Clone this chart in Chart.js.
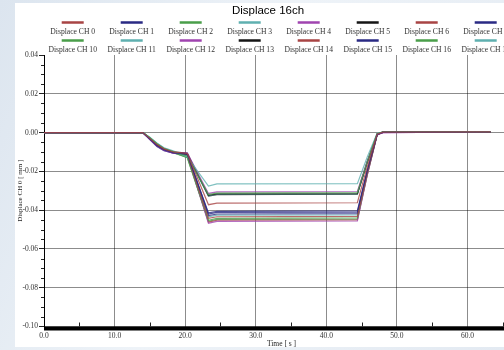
<!DOCTYPE html>
<html>
<head>
<meta charset="utf-8">
<script src="https://cdn.jsdelivr.net/npm/chart.js@4.4.0/dist/chart.umd.min.js"></script>
<style>
  html, body { margin: 0; padding: 0; width: 504px; height: 350px; overflow: hidden; }
  body { position: relative; background: linear-gradient(115deg, #dce5ef 0%, #eef3f8 45%, #e3eaf2 100%); }
  #wrap { position: absolute; left: 15px; top: 0; width: 506px; height: 350px; }
</style>
</head>
<body>
<div id="wrap"><canvas id="chart" width="506" height="350"></canvas></div>
<script>
// Chart text
const chartTitle = 'Displace 16ch';
const xTitle = 'Time [ s ]';
const yTitle = 'Displace CH 0 [ mm ]';

// Channel names (octal numbering, 16 channels) and legend colours
const channels = [
  'Displace CH 0', 'Displace CH 1', 'Displace CH 2', 'Displace CH 3',
  'Displace CH 4', 'Displace CH 5', 'Displace CH 6', 'Displace CH 7',
  'Displace CH 10', 'Displace CH 11', 'Displace CH 12', 'Displace CH 13',
  'Displace CH 14', 'Displace CH 15', 'Displace CH 16', 'Displace CH 17'
];
const channelColors = [
  '#a84444', '#2a2a84', '#4a9e4a', '#5fb0b0', '#a044b0', '#151515', '#a84444', '#2a2a84',
  '#4a9e4a', '#5fb0b0', '#a044b0', '#151515', '#a84444', '#2a2a84', '#4a9e4a', '#5fb0b0'
];

// Time axis [s]
const timeSec = [0, 14.0, 15.0, 16.0, 17.0, 18.3, 20.3, 23.3, 24.5, 44.4, 45.8, 47.2, 48.0, 63.3];

// Displacement per channel [mm]
const ch0  = [0, 0, -0.0030, -0.0062, -0.0084, -0.0100, -0.0108, -0.0372, -0.0364, -0.0362, -0.0176, -0.0008, 0.0002, 0.0004];
const ch1  = [0, 0, -0.0034, -0.0068, -0.0090, -0.0104, -0.0112, -0.0414, -0.0406, -0.0404, -0.0196, -0.0010, 0.0001, 0.0003];
const ch2  = [0, 0, -0.0026, -0.0058, -0.0082, -0.0098, -0.0120, -0.0320, -0.0312, -0.0310, -0.0150, -0.0006, 0.0003, 0.0004];
const ch3  = [0, 0, -0.0024, -0.0054, -0.0078, -0.0094, -0.0126, -0.0276, -0.0265, -0.0264, -0.0126, -0.0004, 0.0003, 0.0005];
const ch4  = [0, 0, -0.0036, -0.0070, -0.0092, -0.0106, -0.0104, -0.0314, -0.0306, -0.0304, -0.0146, -0.0010, 0.0000, 0.0003];
const ch5  = [0, 0, -0.0032, -0.0064, -0.0086, -0.0102, -0.0110, -0.0324, -0.0316, -0.0315, -0.0152, -0.0007, 0.0002, 0.0004];
const ch6  = [0, 0, -0.0030, -0.0060, -0.0084, -0.0100, -0.0114, -0.0442, -0.0434, -0.0432, -0.0208, -0.0010, 0.0001, 0.0003];
const ch7  = [0, 0, -0.0036, -0.0072, -0.0094, -0.0106, -0.0110, -0.0428, -0.0420, -0.0418, -0.0202, -0.0010, 0.0001, 0.0004];
const ch10 = [0, 0, -0.0028, -0.0060, -0.0086, -0.0104, -0.0128, -0.0452, -0.0442, -0.0440, -0.0212, -0.0010, 0.0002, 0.0004];
const ch11 = [0, 0, -0.0026, -0.0056, -0.0080, -0.0098, -0.0124, -0.0326, -0.0318, -0.0316, -0.0152, -0.0006, 0.0003, 0.0005];
const ch12 = [0, 0, -0.0034, -0.0066, -0.0090, -0.0106, -0.0116, -0.0468, -0.0458, -0.0456, -0.0220, -0.0012, 0.0000, 0.0003];
const ch13 = [0, 0, -0.0030, -0.0062, -0.0086, -0.0100, -0.0106, -0.0328, -0.0320, -0.0318, -0.0154, -0.0008, 0.0002, 0.0004];
const ch14 = [0, 0, -0.0032, -0.0064, -0.0088, -0.0102, -0.0112, -0.0462, -0.0452, -0.0450, -0.0218, -0.0012, 0.0001, 0.0003];
const ch15 = [0, 0, -0.0034, -0.0068, -0.0090, -0.0104, -0.0108, -0.0420, -0.0412, -0.0410, -0.0198, -0.0010, 0.0001, 0.0004];
const ch16 = [0, 0, -0.0026, -0.0058, -0.0084, -0.0102, -0.0130, -0.0458, -0.0448, -0.0446, -0.0216, -0.0010, 0.0002, 0.0004];
const ch17 = [0, 0, -0.0028, -0.0058, -0.0082, -0.0100, -0.0122, -0.0434, -0.0426, -0.0424, -0.0206, -0.0008, 0.0003, 0.0005];

const seriesValues = [ch0, ch1, ch2, ch3, ch4, ch5, ch6, ch7, ch10, ch11, ch12, ch13, ch14, ch15, ch16, ch17];

// Axis ranges
const xMin = 0, xMax = 67.3, xStep = 10;
const yMin = -0.10, yMax = 0.04, yStep = 0.02;

const serif = '"Liberation Serif", "Times New Roman", serif';
const gridGray = 'rgba(0, 0, 0, 0.45)';

// Title, legend with swatch above text, thick x axis bar and minor ticks
const decorPlugin = {
  id: 'decor',
  beforeDraw(chart) {
    const ctx = chart.ctx;
    ctx.save();
    ctx.fillStyle = '#ffffff';
    ctx.fillRect(0, 3, chart.width, 344);
    ctx.restore();
  },
  afterDraw(chart) {
    const { ctx, chartArea, scales } = chart;
    const xs = scales.x, ys = scales.y;
    ctx.save();

    // title
    ctx.fillStyle = '#000';
    ctx.font = '11.5px "Liberation Sans", Arial, sans-serif';
    ctx.textAlign = 'center';
    ctx.textBaseline = 'middle';
    ctx.fillText(chartTitle, 253, 11);

    // legend: two rows of eight
    ctx.font = '7.6px ' + serif;
    chart.data.datasets.forEach((ds, i) => {
      const row = Math.floor(i / 8);
      const col = i % 8;
      const cx = 57.7 + col * 59;
      const sy = 22.5 + row * 18;
      ctx.fillStyle = channelColors[i];
      ctx.fillRect(cx - 11, sy - 1.25, 22, 2.5);
      ctx.fillStyle = '#333';
      ctx.fillText(ds.label, cx, sy + 9);
    });

    // thick x axis bar
    ctx.fillStyle = '#000';
    ctx.fillRect(chartArea.left, chartArea.bottom, chartArea.right - chartArea.left, 4);

    // minor ticks
    ctx.strokeStyle = '#222';
    ctx.lineWidth = 1;
    ctx.beginPath();
    for (let t = xMin + xStep / 2; t < xMax; t += xStep) {
      const px = Math.round(xs.getPixelForValue(t)) + 0.5;
      ctx.moveTo(px, chartArea.bottom - 4);
      ctx.lineTo(px, chartArea.bottom);
    }
    for (let k = 0; k <= 28; k++) {
      if (k % 4 === 0) continue;
      const v = yMin + k * 0.005;
      const py = Math.round(ys.getPixelForValue(v)) + 0.5;
      ctx.moveTo(chartArea.left - 3, py);
      ctx.lineTo(chartArea.left, py);
    }
    ctx.stroke();
    ctx.restore();
  }
};

const datasets = channels.map((name, i) => ({
  label: name,
  data: timeSec.map((t, j) => ({ x: t, y: seriesValues[i][j] })),
  borderColor: channelColors[i] + 'cc',
  borderWidth: 1.2,
  pointRadius: 0,
  tension: 0,
  fill: false
}));

new Chart(document.getElementById('chart'), {
  type: 'line',
  data: { datasets: datasets },
  options: {
    responsive: false,
    animation: false,
    devicePixelRatio: 1,
    layout: { padding: { top: 55, right: 2, left: 0, bottom: 0 } },
    plugins: {
      legend: { display: false },
      title: { display: false },
      tooltip: { enabled: false }
    },
    scales: {
      x: {
        type: 'linear',
        min: xMin,
        max: xMax,
        afterFit: (scale) => { scale.height = 23.5; },
        ticks: {
          stepSize: xStep,
          includeBounds: false,
          autoSkip: false,
          maxRotation: 0,
          padding: 5,
          color: '#333',
          font: { family: serif, size: 7.5 },
          callback: (v) => Number(v).toFixed(1)
        },
        grid: { color: gridGray, drawTicks: false },
        border: { display: false },
        title: {
          display: true,
          text: xTitle,
          color: '#222',
          font: { family: serif, size: 7.5 },
          padding: { top: 0, bottom: 1.5 }
        }
      },
      y: {
        min: yMin,
        max: yMax,
        afterFit: (scale) => { scale.width = 29; },
        ticks: {
          stepSize: yStep,
          includeBounds: true,
          padding: 1,
          color: '#333',
          font: { family: serif, size: 7.5 },
          callback: (v) => Math.abs(v) < 1e-9 ? '0.00' : Number(v).toFixed(2)
        },
        grid: {
          color: (c) => (c.tick && Math.abs(c.tick.value - yMax) < 1e-9) ? 'rgba(0,0,0,0)' : gridGray,
          tickColor: '#222',
          tickLength: 5
        },
        border: { display: true, color: '#000', width: 1 },
        title: {
          display: true,
          text: yTitle,
          color: '#222',
          font: { family: serif, size: 7 },
          padding: { top: 0.5, bottom: 0 }
        }
      }
    }
  },
  plugins: [decorPlugin]
});
</script>
</body>
</html>
